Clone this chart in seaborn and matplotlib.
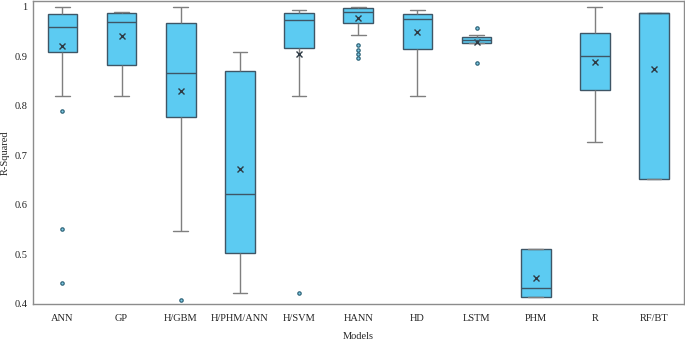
import numpy as np
import pandas as pd
import matplotlib
matplotlib.use("Agg")
import matplotlib.pyplot as plt
import seaborn as sns

# R-squared values per model, estimated from the reference chart
models = ['ANN', 'GP', 'H/GBM', 'H/PHM/ANN', 'H/SVM', 'HANN', 'HD', 'LSTM', 'PHM', 'R', 'RF/BT']

ann = [0.442, 0.551, 0.789, 0.821, 0.910, 0.925, 0.940, 0.952, 0.960,
       0.966, 0.972, 0.978, 0.985, 0.990, 0.994, 0.997, 1.000]
gp = [0.821, 0.883, 0.969, 0.987, 0.989]
h_gbm = [0.408, 0.547, 0.777, 0.820, 0.866, 0.930, 0.968, 0.985, 1.000]
h_phm_ann = [0.422, 0.502, 0.622, 0.871, 0.910]
h_svm = [0.422, 0.820, 0.918, 0.950, 0.974, 0.982, 0.988, 0.990, 0.993]
hann = [0.896, 0.905, 0.914, 0.923, 0.943, 0.968, 0.975, 0.980, 0.984, 0.987,
        0.989, 0.991, 0.993, 0.994, 0.995, 0.997, 0.998, 0.999, 0.999, 1.000, 1.000]
hd = [0.820, 0.916, 0.975, 0.985, 0.993]
lstm = [0.886, 0.928, 0.928, 0.930, 0.933, 0.936, 0.939, 0.943, 0.958]
phm = [0.415, 0.415, 0.432, 0.512, 0.512]
r = [0.727, 0.832, 0.900, 0.948, 1.000]
rf_bt = [0.652, 0.652, 0.987, 0.987, 0.987]

# mean markers as shown in the chart
means = [0.921, 0.942, 0.831, 0.673, 0.905, 0.977, 0.949, 0.929, 0.453, 0.888, 0.875]

values = [ann, gp, h_gbm, h_phm_ann, h_svm, hann, hd, lstm, phm, r, rf_bt]
df = pd.DataFrame({
    'Models': [m for m, v in zip(models, values) for _ in v],
    'R-Squared': [x for v in values for x in v],
})
mean_df = pd.DataFrame({'Models': models, 'R-Squared': means})

sns.set_theme(style="white")
plt.rcParams['font.family'] = ['Liberation Serif', 'DejaVu Serif']

fig = plt.figure(figsize=(6.85, 3.40), dpi=100)
ax = fig.add_axes([0.048, 0.106, 0.950, 0.891])

box_color = '#5CCBF2'
edge = '#3E5666'
sns.boxplot(data=df, x='Models', y='R-Squared', order=models, color=box_color,
            width=0.5, saturation=1, linewidth=1.0, ax=ax,
            boxprops=dict(facecolor=box_color, edgecolor=edge),
            medianprops=dict(color=edge, linewidth=1.0),
            whiskerprops=dict(color='#7F7F7F', linewidth=1.0),
            capprops=dict(color='#7F7F7F', linewidth=1.0),
            flierprops=dict(marker='o', markersize=2.4, markerfacecolor='#7FCDE8',
                            markeredgecolor='#2F6479', markeredgewidth=0.9))
sns.pointplot(data=mean_df, x='Models', y='R-Squared', order=models,
              linestyle='none', marker='x', color='#2E3A44', markersize=5,
              markeredgewidth=1.0, errorbar=None, ax=ax)

ax.set_xlim(-0.5, 10.5)
ax.set_ylim(0.4, 1.012)
yt = [0.4, 0.5, 0.6, 0.7, 0.8, 0.9, 1.0]
ax.set_yticks(yt)
ax.set_yticklabels(['0.4', '0.5', '0.6', '0.7', '0.8', '0.9', '1'])
ax.tick_params(axis='both', length=0, labelsize=7.5, colors='#222222')
ax.tick_params(axis='y', pad=4)
ax.tick_params(axis='x', pad=7)
ax.set_xlabel('Models', fontsize=7.5, labelpad=6.5)
ax.set_ylabel('R-Squared', fontsize=7.5, labelpad=3)
for s in ax.spines.values():
    s.set_color('#8C8C8C')
    s.set_linewidth(1.0)

fig.savefig('out.png', dpi=100)
